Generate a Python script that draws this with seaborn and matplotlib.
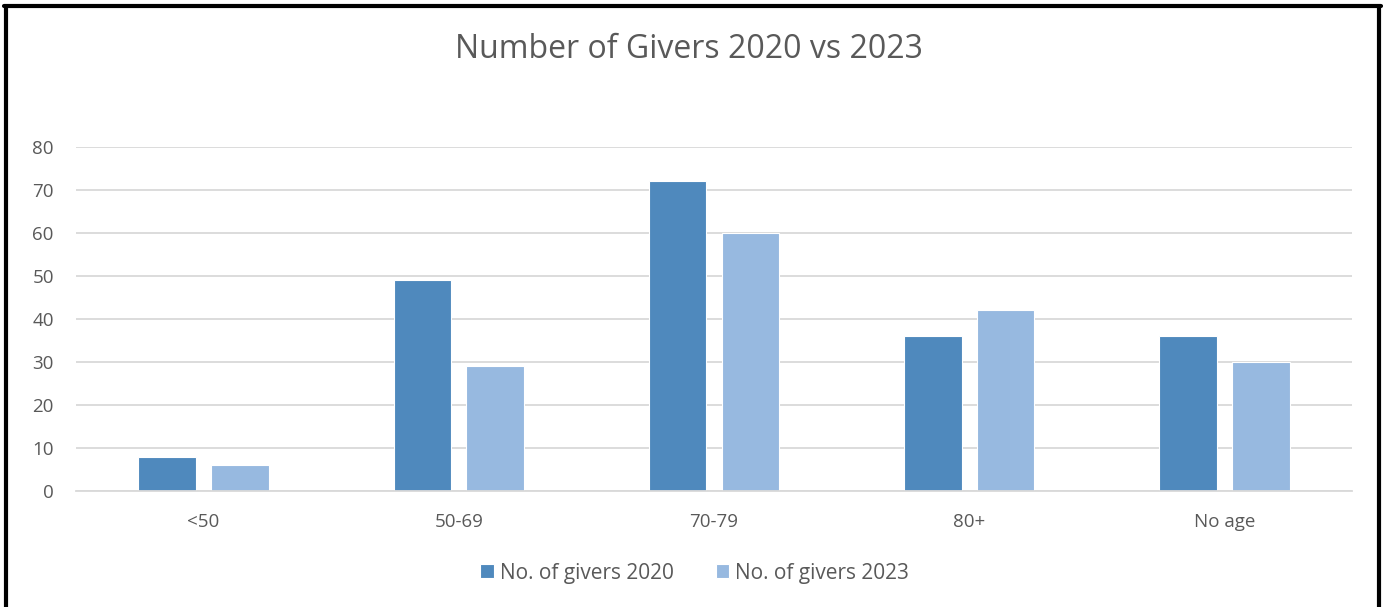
import matplotlib
matplotlib.use("Agg")
import matplotlib.pyplot as plt
import seaborn as sb
import pandas as pd
from matplotlib.lines import Line2D

AGE_GROUPS = ["<50", "50-69", "70-79", "80+", "No age"]
GIVERS_2020 = [8, 49, 72, 36, 36]
GIVERS_2023 = [6, 29, 60, 42, 30]
SERIES = ["No. of givers 2020", "No. of givers 2023"]
COLORS = ["#4F89BD", "#97B9E0"]
TEXT_GREY = "#595959"
GRID_GREY = "#D9D9D9"

df = pd.DataFrame({
    "age": AGE_GROUPS * 2,
    "givers": GIVERS_2020 + GIVERS_2023,
    "series": [SERIES[0]] * len(AGE_GROUPS) + [SERIES[1]] * len(AGE_GROUPS),
})

sb.set_style("white")
plt.rcParams['font.family'] = ['Open Sans', 'DejaVu Sans']

fig = plt.figure(figsize=(13.84, 6.07), dpi=100)
ax = fig.add_axes([0.0549, 0.1911, 0.922, 0.5667])

sb.barplot(data=df, x="age", y="givers", hue="series", palette=COLORS,
           width=0.57, gap=0.21, saturation=1, ax=ax,
           edgecolor="white", linewidth=0.8)

ax.set_ylim(0, 80)
ax.set_xlim(-0.5, 4.5)
ax.set_yticks(range(0, 81, 10))
ax.yaxis.grid(True, color=GRID_GREY, linewidth=1.3)
ax.set_axisbelow(True)
for s in ["top", "right", "left"]:
    ax.spines[s].set_visible(False)
ax.spines["bottom"].set_color(GRID_GREY)
ax.spines["bottom"].set_linewidth(1.3)
ax.tick_params(axis="both", length=0, labelsize=13.5, labelcolor=TEXT_GREY)
ax.tick_params(axis="y", pad=16)
ax.tick_params(axis="x", pad=16)
ax.set_xlabel("")
ax.set_ylabel("")

ax.legend_.remove()
fig.legend(handles=ax.get_legend_handles_labels()[0], labels=SERIES,
           loc="center", bbox_to_anchor=(0.502, 0.056), ncol=2, frameon=False,
           fontsize=15, labelcolor=TEXT_GREY, handlelength=0.65, handleheight=0.65,
           handletextpad=0.3, columnspacing=2.0)

fig.text(0.498, 0.918, "Number of Givers 2020 vs 2023", ha="center", va="center",
         fontsize=23, color=TEXT_GREY)

# black frame around the chart (bottom edge is cut off in the original)
for xs, ys in [([0.0043, 0.0043], [-0.1, 0.9893]), ([0.0029, 0.9978], [0.9893, 0.9893]),
               ([0.9964, 0.9964], [-0.1, 0.9893])]:
    fig.add_artist(Line2D(xs, ys, transform=fig.transFigure, color="black", linewidth=3.0))

fig.savefig("out.png", dpi=100)
